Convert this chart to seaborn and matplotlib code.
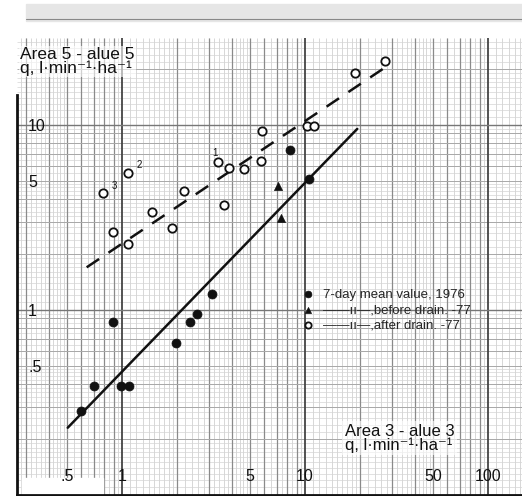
import matplotlib
matplotlib.use("Agg")
import matplotlib.pyplot as plt
from matplotlib.patches import Rectangle
from matplotlib.lines import Line2D
import numpy as np
import seaborn as sns

# 7-day mean value, 1976 (filled circles)
mean76_x = [0.60, 0.70, 0.89, 0.99, 1.09, 1.98, 2.36, 2.57, 3.11, 8.3, 10.5]
mean76_y = [0.286, 0.387, 0.865, 0.387, 0.387, 0.666, 0.858, 0.951, 1.22, 7.35, 5.09]

# before drainage -77 (filled triangles)
before_x = [7.12, 7.37]
before_y = [4.70, 3.13]

# after drainage -77 (open circles)
after_x = [0.79, 1.08, 0.89, 1.08, 1.46, 1.88, 2.18, 3.59, 3.34, 3.84, 4.66,
           5.80, 5.75, 10.3, 11.2, 18.8, 27.4]
after_y = [4.27, 5.48, 2.64, 2.28, 3.39, 2.76, 4.40, 3.70, 6.33, 5.84, 5.78,
           9.28, 6.41, 9.92, 9.92, 19.2, 22.2]

# fitted lines (end points)
fit76_x = [0.505, 19.3]
fit76_y = [0.231, 9.52]
fit77_x = [0.641, 27.9]
fit77_y = [1.70, 20.7]

# numbered points
note_x = [0.79, 1.08, 3.34]
note_y = [4.27, 5.48, 6.33]
note_txt = ['3', '2', '1']
note_off = [(6, 2), (6, 2), (-4, 3)]

xticks = [0.5, 1, 5, 10, 50, 100]
xticklabels = ['.5', '1', '5', '10', '50', '100']
yticks = [0.5, 1, 5, 10]
yticklabels = ['.5', '1', '5', '10']

sns.set_style('white')
plt.rcParams['font.family'] = ['Liberation Sans', 'DejaVu Sans']

W, H = 522, 496
fig = plt.figure(figsize=(W / 100, H / 100), dpi=100)
ax = fig.add_axes([17 / W, 1 / H, 505 / W, 457 / H])
ax.set_xscale('log')
ax.set_yscale('log')
ax.set_xlim(0.2668, 153.4)
ax.set_ylim(0.1, 29.5)

# graph paper background
def paper_lines(lo, hi):
    major, minor, fine = [], [], []
    for d in [0.1, 1, 10, 100]:
        major.append(d)
        minor += [m * d for m in range(2, 10)]
        fine += [v * d for v in np.arange(1.1, 2.0, 0.1)]
        fine += [v * d for v in np.arange(2.2, 5.0, 0.2)]
        fine += [v * d for v in np.arange(5.5, 10.0, 0.5)]
    keep = lambda vals: [v for v in vals if lo <= v <= hi]
    return keep(major), keep(minor), keep(fine)

xmaj, xmin_, xfine = paper_lines(0.2, 200)
ymaj, ymin_, yfine = paper_lines(0.1, 40)
ax.vlines(xfine, 0.1, 29.5, color='#c8c8c8', lw=0.5, zorder=0.2)
ax.hlines(yfine, 0.2668, 153.4, color='#d4d4d4', lw=0.5, zorder=0.2)
ax.vlines(xmin_, 0.1, 29.5, color='#8a8a8a', lw=0.9, zorder=0.25)
ax.hlines(ymin_, 0.2668, 153.4, color='#a8a8a8', lw=0.7, zorder=0.25)
ax.vlines(xmaj, 0.1, 29.5, color='#444444', lw=1.3, zorder=0.3)
ax.hlines(ymaj, 0.2668, 153.4, color='#777777', lw=1.0, zorder=0.3)

# white patch at bottom left (scan artefact)
ax.add_patch(Rectangle((0.01, 0), 0.16, 0.038,
                       transform=ax.transAxes, color='white', zorder=0.4))

# regression lines
sns.lineplot(x=fit76_x, y=fit76_y, color='#111111', lw=1.8, ax=ax, zorder=3)
sns.lineplot(x=fit77_x, y=fit77_y, color='#111111', lw=1.8, ax=ax, zorder=3,
             linestyle=(0, (6, 4.5)))

# data points
sns.scatterplot(x=mean76_x, y=mean76_y, marker='o', s=42, color='#111111',
                edgecolor='#111111', linewidth=0.5, ax=ax, zorder=4,
                label='7-day mean value, 1976')
sns.scatterplot(x=before_x, y=before_y, marker='^', s=34, color='#111111',
                edgecolor='#111111', linewidth=0.5, ax=ax, zorder=4,
                label='——ıı—,before drain. -77')
sns.scatterplot(x=after_x, y=after_y, marker='o', s=36, facecolor='white',
                edgecolor='#111111', linewidth=1.3, ax=ax, zorder=4,
                label='——ıı—,after drain. -77')

for x, y, t, off in zip(note_x, note_y, note_txt, note_off):
    ax.annotate(t, (x, y), xytext=off, textcoords='offset points',
                fontsize=7, ha='left', va='bottom', color='#111111')

ax.legend(loc='upper left', bbox_to_anchor=(0.563, 0.452), frameon=False,
          fontsize=9.5, handlelength=1.0, handletextpad=0.64, labelspacing=0.25,
          borderpad=0, borderaxespad=0, markerscale=0.75)

# axes, ticks
for side in ['top', 'right']:
    ax.spines[side].set_visible(False)
ax.spines['left'].set_linewidth(2)
ax.spines['left'].set_color('#111111')
ax.spines['left'].set_bounds(0.1, 14.5)
ax.spines['bottom'].set_linewidth(2)
ax.spines['bottom'].set_color('#111111')

ax.set_xticks(xticks)
ax.set_xticklabels(xticklabels)
ax.set_yticks(yticks)
ax.set_yticklabels(yticklabels)
ax.minorticks_off()
ax.tick_params(axis='x', direction='in', length=7, width=1.8, pad=-19,
               labelsize=11.5, colors='#111111')
ax.tick_params(axis='y', direction='in', length=5, width=1.5, pad=-8,
               labelsize=11.5, colors='#111111')
for lab in ax.get_yticklabels():
    lab.set_horizontalalignment('left')
ax.set_xlabel('')
ax.set_ylabel('')

# axis titles
fig.text(20 / W, 1 - 47 / H, 'Area 5 - alue 5\nq, l·min⁻¹·ha⁻¹', ha='left',
         va='top', fontsize=12.5, linespacing=0.85, color='#111111',
         bbox=dict(facecolor='white', edgecolor='none', alpha=0.6, pad=1))
fig.text(345 / W, 1 - 424 / H, 'Area 3 - alue 3\nq, l·min⁻¹·ha⁻¹', ha='left',
         va='top', fontsize=12, linespacing=0.85, color='#111111',
         bbox=dict(facecolor='white', edgecolor='none', alpha=0.6, pad=2))

# scanned strip at the top
fig.add_artist(Rectangle((0.05, 1 - 21 / H), 0.95, 17 / H,
                         transform=fig.transFigure, color='#e6e6e6', zorder=0))
fig.add_artist(Line2D([0.05, 1.0], [1 - 19 / H] * 2, transform=fig.transFigure,
                      color='#888888', lw=0.8))

fig.savefig('out.png', dpi=100)
